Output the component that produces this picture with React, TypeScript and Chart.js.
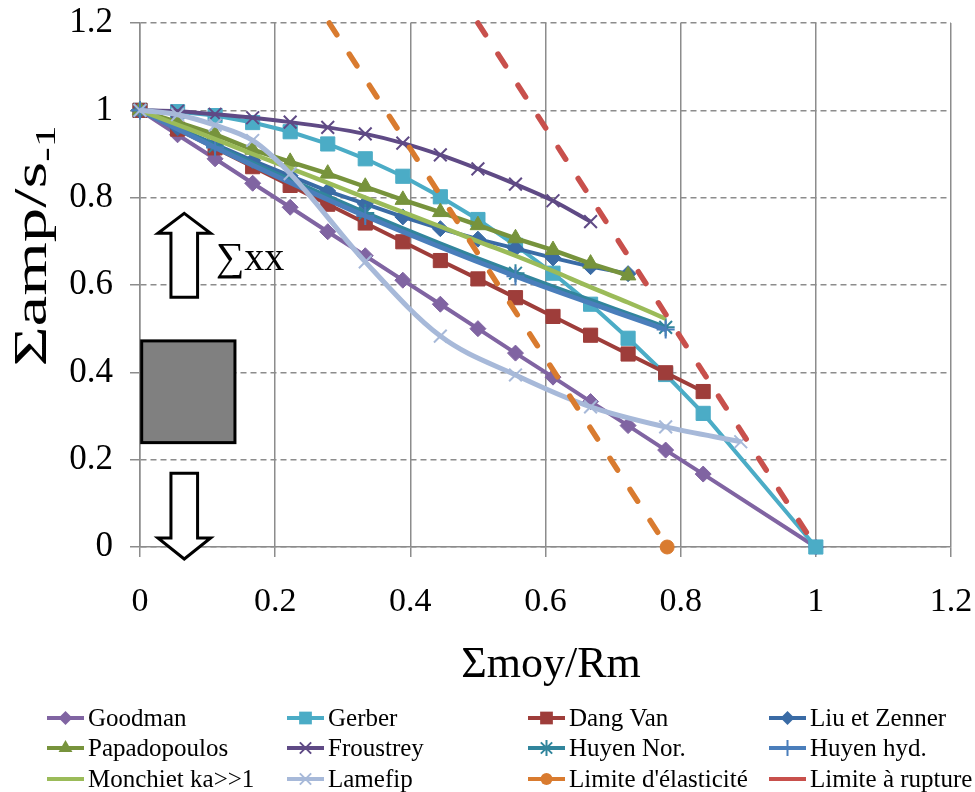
import React, { useEffect, useRef } from "react";
import { Chart, registerables } from "chart.js";

Chart.register(...registerables);

const FONT = '"Liberation Serif", "Times New Roman", serif';

// ---------- tick labels ----------
const xTickLabels = ["0", "0.2", "0.4", "0.6", "0.8", "1", "1.2"];
const yTickLabels = ["0", "0.2", "0.4", "0.6", "0.8", "1", "1.2"];

// ---------- series data (x = σmoy/Rm, y = σamp/s-1) ----------
const goodmanX = [0, 0.0556, 0.1111, 0.1667, 0.2222, 0.2778, 0.3333, 0.3889, 0.4444, 0.5, 0.5556, 0.6111, 0.6667, 0.7222, 0.7778, 0.8333, 1];
const goodmanY = [1, 0.944, 0.889, 0.833, 0.778, 0.722, 0.667, 0.611, 0.556, 0.5, 0.444, 0.389, 0.333, 0.278, 0.222, 0.167, 0];

const gerberX = [0, 0.0556, 0.1111, 0.1667, 0.2222, 0.2778, 0.3333, 0.3889, 0.4444, 0.5, 0.5556, 0.6111, 0.6667, 0.7222, 0.7778, 0.8333, 1];
const gerberY = [1, 0.997, 0.988, 0.972, 0.951, 0.923, 0.889, 0.849, 0.802, 0.75, 0.691, 0.627, 0.556, 0.478, 0.395, 0.306, 0];

const dangVanX = [0, 0.0556, 0.1111, 0.1667, 0.2222, 0.2778, 0.3333, 0.3889, 0.4444, 0.5, 0.5556, 0.6111, 0.6667, 0.7222, 0.7778, 0.8333];
const dangVanY = [1, 0.957, 0.914, 0.871, 0.828, 0.785, 0.742, 0.699, 0.656, 0.614, 0.571, 0.528, 0.485, 0.442, 0.399, 0.356];

const liuX = [0, 0.0556, 0.1111, 0.1667, 0.2222, 0.2778, 0.3333, 0.3889, 0.4444, 0.5, 0.5556, 0.6111, 0.6667, 0.7222];
const liuY = [1, 0.96, 0.922, 0.885, 0.85, 0.815, 0.786, 0.756, 0.729, 0.705, 0.684, 0.662, 0.642, 0.626];

const papaX = [0, 0.0556, 0.1111, 0.1667, 0.2222, 0.2778, 0.3333, 0.3889, 0.4444, 0.5, 0.5556, 0.6111, 0.6667, 0.7222];
const papaY = [1, 0.973, 0.945, 0.91, 0.882, 0.855, 0.825, 0.795, 0.767, 0.737, 0.707, 0.68, 0.649, 0.622];

const froustreyX = [0, 0.0556, 0.1111, 0.1667, 0.2222, 0.2778, 0.3333, 0.3889, 0.4444, 0.5, 0.5556, 0.6111, 0.6667];
const froustreyY = [1, 0.998, 0.991, 0.983, 0.973, 0.961, 0.946, 0.925, 0.898, 0.866, 0.831, 0.793, 0.745];

const huyenNorX = [0, 0.1111, 0.3333, 0.5556, 0.7778];
const huyenNorY = [1, 0.918, 0.765, 0.627, 0.503];

const huyenHydX = [0, 0.1111, 0.3333, 0.5556, 0.7778];
const huyenHydY = [1, 0.915, 0.758, 0.62, 0.498];

const monchietX = [0, 0.0556, 0.1111, 0.1667, 0.2222, 0.2778, 0.3333, 0.3889, 0.4444, 0.5, 0.5556, 0.6111, 0.6667, 0.7222, 0.7778];
const monchietY = [1, 0.967, 0.934, 0.9, 0.867, 0.834, 0.8, 0.767, 0.734, 0.7, 0.667, 0.632, 0.595, 0.56, 0.523];

const lamefipX = [0, 0.0556, 0.1111, 0.1667, 0.2222, 0.3333, 0.4444, 0.5556, 0.6667, 0.7778, 0.8889];
const lamefipY = [1, 0.99, 0.966, 0.931, 0.855, 0.653, 0.483, 0.394, 0.321, 0.275, 0.241];

const elasticX = [0.28, 0.78];
const elasticY = [1.2, 0];

const ruptureX = [0.5, 1];
const ruptureY = [1.2, 0];

// ---------- annotation geometry (in data units) ----------
const arrowCenterX = 0.0655;
const arrowHeadHalf = 0.039;
const arrowShaftHalf = 0.0197;
const upArrow = { tip: 0.764, base: 0.7185, tail: 0.572 };
const downArrow = { tip: -0.0275, base: 0.0206, tail: 0.169 };
const boxX = [0.0025, 0.1405];
const boxY = [0.239, 0.472];
const sumLabelPos = { x: 0.112, y: 0.634 };

type Series = {
  label: string;
  xs: number[];
  ys: number[];
  color: string;
  marker: string | false;
  radius: number;
  width: number;
  smooth: boolean;
  dash?: number[];
  markerOnlyLast?: boolean;
  markerWidth?: number;
};

const series: Series[] = [
  { label: "Goodman", xs: goodmanX, ys: goodmanY, color: "#8064A2", marker: "rectRot", radius: 8, width: 4, smooth: false },
  { label: "Gerber", xs: gerberX, ys: gerberY, color: "#4BACC6", marker: "rect", radius: 10, width: 4, smooth: false },
  { label: "Dang Van", xs: dangVanX, ys: dangVanY, color: "#9E3D3A", marker: "rect", radius: 10, width: 4, smooth: false },
  { label: "Liu et Zenner", xs: liuX, ys: liuY, color: "#3A6BA5", marker: "rectRot", radius: 8, width: 4, smooth: false },
  { label: "Papadopoulos", xs: papaX, ys: papaY, color: "#77933C", marker: "triangle", radius: 9, width: 4.5, smooth: false },
  { label: "Froustrey", xs: froustreyX, ys: froustreyY, color: "#5F4A85", marker: "crossRot", radius: 9, width: 4, smooth: true, markerWidth: 2 },
  { label: "Huyen Nor.", xs: huyenNorX, ys: huyenNorY, color: "#31859C", marker: "star", radius: 9, width: 5, smooth: true, markerWidth: 2 },
  { label: "Huyen hyd.", xs: huyenHydX, ys: huyenHydY, color: "#4A7EBB", marker: "cross", radius: 9, width: 5, smooth: true, markerWidth: 2 },
  { label: "Monchiet ka>>1", xs: monchietX, ys: monchietY, color: "#9BBB59", marker: false, radius: 0, width: 4.5, smooth: true },
  { label: "Lamefip", xs: lamefipX, ys: lamefipY, color: "#A7B9D9", marker: "crossRot", radius: 9, width: 5, smooth: true, markerWidth: 2 },
  { label: "Limite d'élasticité", xs: elasticX, ys: elasticY, color: "#D97B2F", marker: "circle", radius: 7, width: 5.5, smooth: false, dash: [14, 23], markerOnlyLast: true },
  { label: "Limite à rupture", xs: ruptureX, ys: ruptureY, color: "#C8504C", marker: false, radius: 0, width: 5.5, smooth: false, dash: [14, 23] },
];

function drawMarker(ctx: CanvasRenderingContext2D, style: string | false, x: number, y: number, r: number, color: string, bw: number) {
  if (!style) return;
  ctx.save();
  ctx.fillStyle = color;
  ctx.strokeStyle = color;
  ctx.lineWidth = bw;
  ctx.beginPath();
  if (style === "rectRot") {
    ctx.moveTo(x, y - r);
    ctx.lineTo(x + r, y);
    ctx.lineTo(x, y + r);
    ctx.lineTo(x - r, y);
    ctx.closePath();
    ctx.fill();
  } else if (style === "rect") {
    const s = r * Math.SQRT1_2;
    ctx.rect(x - s, y - s, 2 * s, 2 * s);
    ctx.fill();
  } else if (style === "triangle") {
    for (let i = 0; i < 3; i++) {
      const a = -Math.PI / 2 + (i * 2 * Math.PI) / 3;
      const px = x + Math.cos(a) * r;
      const py = y + Math.sin(a) * r;
      if (i === 0) ctx.moveTo(px, py);
      else ctx.lineTo(px, py);
    }
    ctx.closePath();
    ctx.fill();
  } else if (style === "circle") {
    ctx.arc(x, y, r, 0, Math.PI * 2);
    ctx.fill();
  } else {
    const d = r * Math.SQRT1_2;
    if (style === "crossRot" || style === "star") {
      ctx.moveTo(x - d, y - d);
      ctx.lineTo(x + d, y + d);
      ctx.moveTo(x - d, y + d);
      ctx.lineTo(x + d, y - d);
    }
    if (style === "cross" || style === "star") {
      ctx.moveTo(x, y - r);
      ctx.lineTo(x, y + r);
      ctx.moveTo(x - r, y);
      ctx.lineTo(x + r, y);
    }
    ctx.stroke();
  }
  ctx.restore();
}

function arrowPath(ctx: CanvasRenderingContext2D, cx: number, tip: number, base: number, tail: number, hh: number, sh: number) {
  ctx.beginPath();
  ctx.moveTo(cx, tip);
  ctx.lineTo(cx + hh, base);
  ctx.lineTo(cx + sh, base);
  ctx.lineTo(cx + sh, tail);
  ctx.lineTo(cx - sh, tail);
  ctx.lineTo(cx - sh, base);
  ctx.lineTo(cx - hh, base);
  ctx.closePath();
}

const legendCols = [47, 287, 528, 769];
const legendRows = [718, 748, 779];

const overlayPlugin = {
  id: "overlay",
  afterDraw(chart: any) {
    const ctx: CanvasRenderingContext2D = chart.ctx;
    const sx = chart.scales.x;
    const sy = chart.scales.y;
    const px = (v: number) => sx.getPixelForValue(v);
    const py = (v: number) => sy.getPixelForValue(v);

    // grey box
    ctx.save();
    ctx.fillStyle = "#808080";
    ctx.strokeStyle = "#000";
    ctx.lineWidth = 3;
    const bx1 = px(boxX[0]);
    const bx2 = px(boxX[1]);
    const by1 = py(boxY[1]);
    const by2 = py(boxY[0]);
    ctx.fillRect(bx1, by1, bx2 - bx1, by2 - by1);
    ctx.strokeRect(bx1, by1, bx2 - bx1, by2 - by1);

    // arrows
    const cx = px(arrowCenterX);
    const hh = px(arrowCenterX + arrowHeadHalf) - cx;
    const sh = px(arrowCenterX + arrowShaftHalf) - cx;
    ctx.fillStyle = "#fff";
    ctx.lineJoin = "miter";
    arrowPath(ctx, cx, py(upArrow.tip), py(upArrow.base), py(upArrow.tail), hh, sh);
    ctx.fill();
    ctx.stroke();
    arrowPath(ctx, cx, py(downArrow.tip), py(downArrow.base), py(downArrow.tail), hh, sh);
    ctx.fill();
    ctx.stroke();

    // sum label
    ctx.fillStyle = "#000";
    ctx.font = `40px ${FONT}`;
    ctx.textBaseline = "alphabetic";
    ctx.textAlign = "left";
    ctx.fillText("∑xx", px(sumLabelPos.x), py(sumLabelPos.y));

    // x axis title
    ctx.font = `44px ${FONT}`;
    ctx.textAlign = "center";
    ctx.fillText("Σmoy/Rm", 551, 677);

    // y axis title with subscript (stretched along its length like the original)
    ctx.save();
    ctx.translate(46, 246);
    ctx.rotate(-Math.PI / 2);
    ctx.scale(1.5, 1);
    ctx.font = `46px ${FONT}`;
    const main = "Σamp/s";
    const sub = "-1";
    const wMain = ctx.measureText(main).width;
    ctx.font = `29px ${FONT}`;
    const wSub = ctx.measureText(sub).width;
    const start = -(wMain + wSub) / 2;
    ctx.textAlign = "left";
    ctx.font = `46px ${FONT}`;
    ctx.fillText(main, start, 0);
    ctx.font = `29px ${FONT}`;
    ctx.fillText(sub, start + wMain, 9);
    ctx.restore();

    // legend
    ctx.font = `25px ${FONT}`;
    ctx.textBaseline = "middle";
    ctx.textAlign = "left";
    series.forEach((s, i) => {
      const x = legendCols[i % 4];
      const y = legendRows[Math.floor(i / 4)];
      ctx.save();
      ctx.strokeStyle = s.color;
      ctx.lineWidth = 4;
      ctx.beginPath();
      ctx.moveTo(x, y);
      ctx.lineTo(x + 37, y);
      ctx.stroke();
      ctx.restore();
      drawMarker(ctx, s.marker, x + 18.5, y, Math.max(0, s.radius - 1), s.color, s.markerWidth || 2);
      ctx.fillStyle = "#000";
      ctx.fillText(s.label, x + 41, y + 1);
    });
    ctx.restore();
  },
};

export default function App() {
  const canvasRef = useRef<HTMLCanvasElement | null>(null);

  useEffect(() => {
    const canvas = canvasRef.current;
    if (!canvas) return;

    const n = series.length;
    const datasets = series.map((s, i) => {
      const data = s.xs.map((x, j) => ({ x, y: s.ys[j] }));
      const radius = s.marker
        ? s.markerOnlyLast
          ? data.map((_, j) => (j === data.length - 1 ? s.radius : 0))
          : s.radius
        : 0;
      return {
        label: s.label,
        data,
        borderColor: s.color,
        backgroundColor: s.color,
        borderWidth: s.width,
        borderDash: s.dash || [],
        borderCapStyle: s.dash ? "round" : "butt",
        pointStyle: s.marker || "circle",
        pointRadius: radius,
        pointBorderWidth: s.markerWidth || 1,
        pointBackgroundColor: s.color,
        pointBorderColor: s.color,
        pointHoverRadius: radius,
        cubicInterpolationMode: s.smooth ? "monotone" : "default",
        tension: 0,
        fill: false,
        clip: false,
        order: n - i,
      };
    });

    const chart = new Chart(canvas, {
      type: "line",
      data: { datasets } as any,
      options: {
        responsive: false,
        animation: false,
        events: [],
        layout: { padding: { left: 0, top: 23, right: 24, bottom: 0 } },
        plugins: {
          legend: { display: false },
          tooltip: { enabled: false },
          title: { display: false },
        },
        scales: {
          x: {
            type: "linear",
            min: 0,
            max: 1.2,
            ticks: {
              stepSize: 0.2,
              color: "#000",
              font: { family: FONT, size: 34 },
              padding: 25,
              maxRotation: 0,
              callback: (_v: any, i: number) => xTickLabels[i],
            },
            grid: { color: "#8C8C8C", lineWidth: 1.5, tickLength: 10, drawTicks: true },
            border: { color: "#8C8C8C", width: 1.5 },
            afterFit: (scale: any) => {
              scale.height = 245;
              scale.paddingLeft = 0;
              scale.paddingRight = 0;
            },
          },
          y: {
            type: "linear",
            min: 0,
            max: 1.2,
            ticks: {
              stepSize: 0.2,
              color: "#000",
              font: { family: FONT, size: 35 },
              padding: 17,
              callback: (_v: any, i: number) => yTickLabels[i],
            },
            grid: { color: "#8C8C8C", lineWidth: 1.5, tickLength: 10, drawTicks: true, tickBorderDash: [] },
            border: { color: "#8C8C8C", width: 1.5, dash: [6, 4] },
            afterFit: (scale: any) => {
              scale.width = 140;
              scale.paddingTop = 0;
              scale.paddingBottom = 0;
            },
          },
        },
      } as any,
      plugins: [overlayPlugin],
    });

    return () => chart.destroy();
  }, []);

  return (
    <div style={{ position: "fixed", left: 0, top: 0, width: 975, height: 792, background: "#fff" }}>
      <canvas ref={canvasRef} width={975} height={792} style={{ width: 975, height: 792, display: "block" }} />
    </div>
  );
}
